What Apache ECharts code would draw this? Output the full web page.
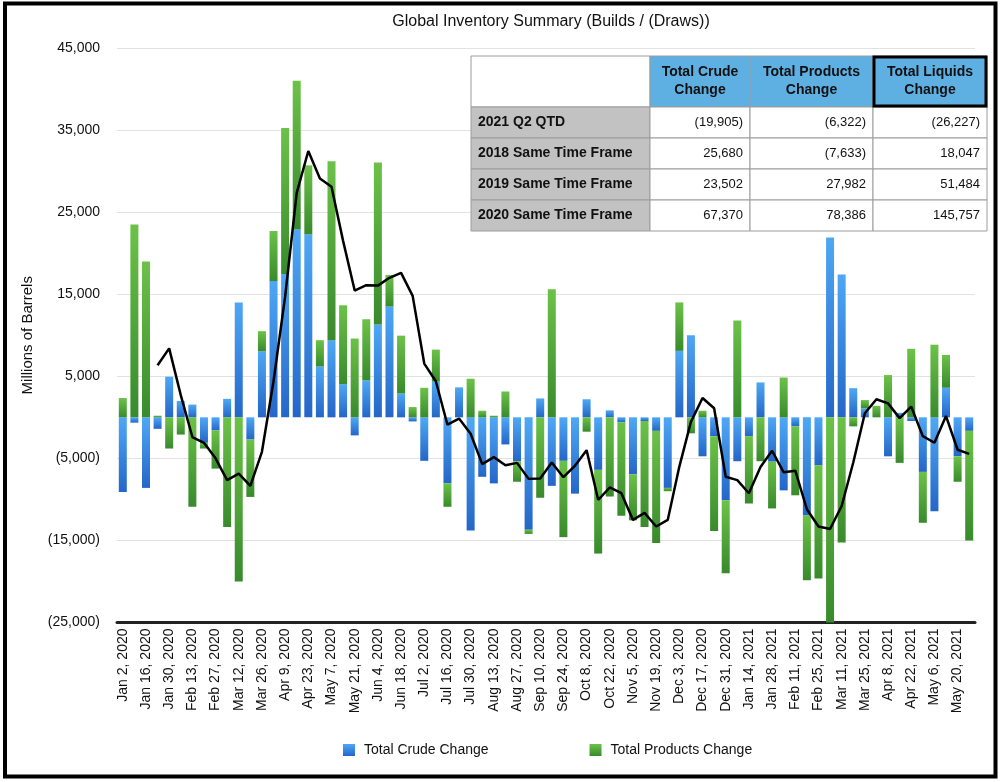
<!DOCTYPE html>
<html>
<head>
<meta charset="utf-8">
<script src="https://cdn.jsdelivr.net/npm/echarts@6/dist/echarts.min.js"></script>
<style>
html,body{margin:0;padding:0;background:#fff;}
#chart{width:1001px;height:782px;}
</style>
</head>
<body>
<div id="chart"></div>
<script>
// ---------- DATA ----------
const categories = [
  'Jan 2, 2020','Jan 9, 2020','Jan 16, 2020','Jan 23, 2020','Jan 30, 2020',
  'Feb 6, 2020','Feb 13, 2020','Feb 20, 2020','Feb 27, 2020',
  'Mar 5, 2020','Mar 12, 2020','Mar 19, 2020','Mar 26, 2020',
  'Apr 2, 2020','Apr 9, 2020','Apr 16, 2020','Apr 23, 2020','Apr 30, 2020',
  'May 7, 2020','May 14, 2020','May 21, 2020','May 28, 2020',
  'Jun 4, 2020','Jun 11, 2020','Jun 18, 2020','Jun 25, 2020',
  'Jul 2, 2020','Jul 9, 2020','Jul 16, 2020','Jul 23, 2020','Jul 30, 2020',
  'Aug 6, 2020','Aug 13, 2020','Aug 20, 2020','Aug 27, 2020',
  'Sep 3, 2020','Sep 10, 2020','Sep 17, 2020','Sep 24, 2020',
  'Oct 1, 2020','Oct 8, 2020','Oct 15, 2020','Oct 22, 2020','Oct 29, 2020',
  'Nov 5, 2020','Nov 12, 2020','Nov 19, 2020','Nov 26, 2020',
  'Dec 3, 2020','Dec 10, 2020','Dec 17, 2020','Dec 24, 2020','Dec 31, 2020',
  'Jan 7, 2021','Jan 14, 2021','Jan 21, 2021','Jan 28, 2021',
  'Feb 4, 2021','Feb 11, 2021','Feb 18, 2021','Feb 25, 2021',
  'Mar 4, 2021','Mar 11, 2021','Mar 18, 2021','Mar 25, 2021',
  'Apr 1, 2021','Apr 8, 2021','Apr 15, 2021','Apr 22, 2021','Apr 29, 2021',
  'May 6, 2021','May 13, 2021','May 20, 2021','May 27, 2021'
];

const crudeChange = [
  -9100, -650, -8600, -1400, 4950, 2000, 1550, -3100, -1600, 2250,
  14000, -2700, 8050, 16600, 17450, 22900, 22300, 6200, 9400, 4050,
  -2200, 4500, 11300, 13500, 2900, -500, -5300, 4350, -8050, 3650,
  -13800, -7250, -8050, -3300, -5350, -13700, 2300, -8350, -5300, -9300,
  2200, -6400, 850, -600, -6950, -450, -1650, -8600, 8100, 10000,
  -4750, -2300, -10100, -5350, -2300, 4250, -5400, -8900, -1100, -11950,
  -5850, 21900, 17400, 3550, 1100, 0, -4750, 550, -450, -6650,
  -11450, 3600, -4750, -1650
];

const productsChange = [
  2350, 23500, 19000, 200, -3800, -2100, -10900, -700, -4650, -13350,
  -20000, -7000, 2450, 6100, 17800, 18100, 8400, 3200, 21800, 9600,
  9600, 7450, 19750, 3850, 7050, 1250, 3600, 3900, -2850, 0,
  4700, 800, 200, 3150, -2500, -500, -9800, 15600, -9300, 0,
  -1750, -10200, -9650, -11400, -5600, -12900, -13650, -400, 5900, -1950,
  800, -11550, -8900, 11800, -8200, -5350, -5700, 4850, -8400, -7900,
  -13800, -27300, -15250, -1100, 1000, 1400, 5150, -5550, 8350, -6200,
  8850, 4000, -3100, -13350
];

// 4-week average of total liquids
const liquidsAvg = [
  null, null, null, 6350, 8400, 2700, -2400, -3100, -5000, -7650,
  -6850, -8350, -4200, 4400, 14700, 27350, 32450, 29100, 28100, 21500,
  15450, 16100, 16050, 17000, 17600, 14800, 6550, 4400, -900, -150,
  -2000, -5700, -4850, -5850, -5550, -7500, -7450, -5500, -7300, -5900,
  -4000, -10050, -8550, -9250, -12500, -11650, -13300, -12500, -6000, -550,
  2350, 1100, -7250, -7650, -9250, -6050, -4070, -6700, -6500, -11200,
  -13300, -13600, -10800, -5500, 500, 2200, 1700, -100, 1300, -2300,
  -3100, 150, -3950, -4450
];

const tableHeaders = ['Total Crude\nChange', 'Total Products\nChange', 'Total Liquids\nChange'];
const tableRowLabels = ['2021 Q2 QTD', '2018 Same Time Frame', '2019 Same Time Frame', '2020 Same Time Frame'];
const tableCrude = ['(19,905)', '25,680', '23,502', '67,370'];
const tableProducts = ['(6,322)', '(7,633)', '27,982', '78,386'];
const tableLiquids = ['(26,227)', '18,047', '51,484', '145,757'];

// ---------- CHART ----------
const FONT = '"Liberation Sans", Arial, Helvetica, sans-serif';
const chart = echarts.init(document.getElementById('chart'));

const blueGrad = new echarts.graphic.LinearGradient(0, 0, 0, 1, [
  {offset: 0, color: '#4ea8f4'}, {offset: 1, color: '#2466c8'}
]);
const greenGrad = new echarts.graphic.LinearGradient(0, 0, 0, 1, [
  {offset: 0, color: '#6cc248'}, {offset: 1, color: '#388a2c'}
]);

function fmt(v) {
  const s = Math.abs(v).toLocaleString('en-US');
  return v < 0 ? '(' + s + ')' : s;
}

// table graphics
const colX = [471, 650, 750, 873, 987];
const rowY = [56, 107, 138, 169, 200, 231];
const g = [];
const borderCol = '#9c9c9c';
const TZ = 100;
g.push({type:'rect', z:TZ, shape:{x:colX[0], y:rowY[0], width:colX[1]-colX[0], height:rowY[1]-rowY[0]},
  style:{fill:'#ffffff', stroke:borderCol, lineWidth:1}});
for (let c = 0; c < 3; c++) {
  g.push({type:'rect', z:TZ, shape:{x:colX[c+1], y:rowY[0], width:colX[c+2]-colX[c+1], height:rowY[1]-rowY[0]},
    style:{fill:'#5eb0e2', stroke:borderCol, lineWidth:1}});
  g.push({type:'text', z:TZ+2, x:(colX[c+1]+colX[c+2])/2, y:(rowY[0]+rowY[1])/2,
    style:{text:tableHeaders[c], fill:'#111', font:'bold 14px ' + FONT, align:'center', verticalAlign:'middle', lineHeight:18}});
}
const cols = [tableCrude, tableProducts, tableLiquids];
for (let r = 0; r < 4; r++) {
  g.push({type:'rect', z:TZ, shape:{x:colX[0], y:rowY[r+1], width:colX[1]-colX[0], height:rowY[r+2]-rowY[r+1]},
    style:{fill:'#c2c2c2', stroke:borderCol, lineWidth:1}});
  g.push({type:'text', z:TZ+2, x:colX[0]+7, y:(rowY[r+1]+rowY[r+2])/2,
    style:{text:tableRowLabels[r], fill:'#111', font:'bold 14px ' + FONT, align:'left', verticalAlign:'middle'}});
  for (let c = 0; c < 3; c++) {
    g.push({type:'rect', z:TZ, shape:{x:colX[c+1], y:rowY[r+1], width:colX[c+2]-colX[c+1], height:rowY[r+2]-rowY[r+1]},
      style:{fill:'#ffffff', stroke:borderCol, lineWidth:1}});
    g.push({type:'text', z:TZ+2, x:colX[c+2]-7, y:(rowY[r+1]+rowY[r+2])/2,
      style:{text:cols[c][r], fill:'#111', font:'13px ' + FONT, align:'right', verticalAlign:'middle'}});
  }
}
g.push({type:'rect', z:TZ+3, shape:{x:colX[3]+1, y:rowY[0]+1, width:colX[4]-colX[3]-2, height:rowY[1]-rowY[0]-2},
  style:{fill:'none', stroke:'#000', lineWidth:3}});
g.push({type:'rect', z:TZ+5, shape:{x:5, y:3.5, width:990.5, height:773}, style:{fill:'none', stroke:'#000', lineWidth:4}});

chart.setOption({
  animation: false,
  backgroundColor: '#fff',
  title: {
    text: 'Global Inventory Summary (Builds / (Draws))',
    left: 546, top: 9, textAlign: 'center',
    textStyle: {fontFamily: FONT, fontSize: 16, fontWeight: 'normal', color: '#111'}
  },
  legend: {
    data: ['Total Crude Change', 'Total Products Change'],
    left: 338, top: 738,
    itemWidth: 12, itemHeight: 12, itemGap: 101,
    icon: 'rect',
    textStyle: {fontFamily: FONT, fontSize: 14, color: '#111', padding: [0, 0, 0, 4]}
  },
  grid: {left: 117, right: 26, top: 48, bottom: 159.5, containLabel: false},
  xAxis: {
    type: 'category',
    data: categories,
    axisLine: {onZero: false, lineStyle: {color: '#222', width: 3}},
    axisTick: {show: false},
    axisLabel: {interval: 1, rotate: 90, margin: 6, fontFamily: FONT, fontSize: 14, color: '#111'},
    splitLine: {show: false}
  },
  yAxis: {
    type: 'value',
    min: -25000, max: 45000, interval: 10000,
    name: 'Millions of Barrels',
    nameLocation: 'middle', nameRotate: 90, nameGap: 82,
    nameTextStyle: {fontFamily: FONT, fontSize: 15, color: '#111'},
    axisLine: {show: false},
    axisTick: {show: false},
    axisLabel: {margin: 17, fontFamily: FONT, fontSize: 14, color: '#111', formatter: fmt},
    splitLine: {lineStyle: {color: '#e2e2e2', width: 1}}
  },
  series: [
    {
      name: 'Total Crude Change', type: 'bar', stack: 'total', stackStrategy: 'samesign',
      data: crudeChange, barWidth: 8,
      itemStyle: {color: blueGrad}
    },
    {
      name: 'Total Products Change', type: 'bar', stack: 'total', stackStrategy: 'samesign',
      data: productsChange, barWidth: 8,
      itemStyle: {color: greenGrad}
    },
    {
      name: 'Total Liquids 4wk', type: 'line', data: liquidsAvg,
      symbol: 'none', lineStyle: {color: '#000', width: 2.5}, z: 5
    }
  ],
  graphic: g
});
</script>
</body>
</html>
